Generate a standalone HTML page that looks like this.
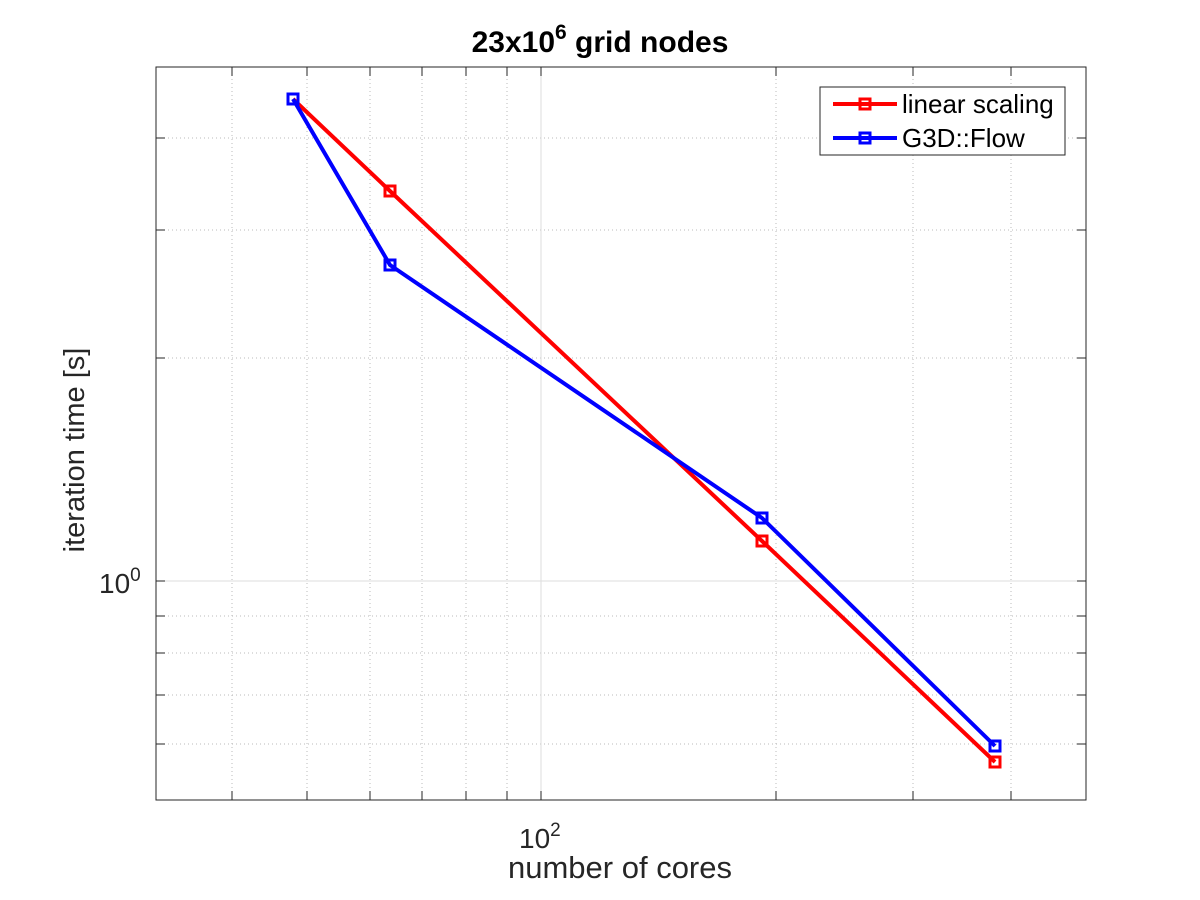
<!DOCTYPE html>
<html><head><meta charset="utf-8"><style>body{margin:0;background:#fff}svg{display:block}text{font-family:"Liberation Sans",sans-serif}</style></head><body>
<svg width="1200" height="900" xmlns="http://www.w3.org/2000/svg">
<rect width="1200" height="900" fill="#fff"/>
<g stroke="#bbb" stroke-width="1" stroke-dasharray="1,3">
<line x1="232" y1="67" x2="232" y2="800"/><line x1="307" y1="67" x2="307" y2="800"/><line x1="370" y1="67" x2="370" y2="800"/><line x1="422" y1="67" x2="422" y2="800"/><line x1="466" y1="67" x2="466" y2="800"/><line x1="507" y1="67" x2="507" y2="800"/><line x1="776" y1="67" x2="776" y2="800"/><line x1="913" y1="67" x2="913" y2="800"/><line x1="1011" y1="67" x2="1011" y2="800"/>
<line x1="156" y1="138" x2="1086" y2="138"/><line x1="156" y1="230" x2="1086" y2="230"/><line x1="156" y1="358" x2="1086" y2="358"/><line x1="156" y1="616" x2="1086" y2="616"/><line x1="156" y1="653" x2="1086" y2="653"/><line x1="156" y1="695" x2="1086" y2="695"/><line x1="156" y1="744" x2="1086" y2="744"/>
</g>
<line x1="541" y1="67" x2="541" y2="800" stroke="#ddd"/>
<line x1="156" y1="581" x2="1086" y2="581" stroke="#ddd"/>
<g stroke="#262626" stroke-width="1">
<rect x="156" y="67" width="930" height="733" fill="none"/>
<path d="M232 67v9M307 67v9M370 67v9M422 67v9M466 67v9M507 67v9M541 67v9M776 67v9M913 67v9M1011 67v9M232 800v-9M307 800v-9M370 800v-9M422 800v-9M466 800v-9M507 800v-9M541 800v-9M776 800v-9M913 800v-9M1011 800v-9"/>
<path d="M156 138h9M156 230h9M156 358h9M156 581h9M156 616h9M156 653h9M156 695h9M156 744h9M1086 138h-9M1086 230h-9M1086 358h-9M1086 581h-9M1086 616h-9M1086 653h-9M1086 695h-9M1086 744h-9"/>
</g>
<polyline points="293,99 390,191 762,541 995,762" fill="none" stroke="#f00" stroke-width="4"/>
<polyline points="293,99 390,265 762,518 995,746" fill="none" stroke="#00f" stroke-width="4"/>
<g fill="none" stroke-width="3">
<g stroke="#f00"><rect x="385" y="186" width="10" height="10"/><rect x="757" y="536" width="10" height="10"/><rect x="990" y="757" width="10" height="10"/></g>
<g stroke="#00f"><rect x="288" y="94" width="10" height="10"/><rect x="385" y="260" width="10" height="10"/><rect x="757" y="513" width="10" height="10"/><rect x="990" y="741" width="10" height="10"/></g>
</g>
<rect x="820" y="87" width="245" height="68" fill="#fff" stroke="#262626"/>
<line x1="833" y1="104" x2="897" y2="104" stroke="#f00" stroke-width="4"/><rect x="860" y="99" width="10" height="10" fill="none" stroke="#f00" stroke-width="3"/>
<line x1="833" y1="138" x2="897" y2="138" stroke="#00f" stroke-width="4"/><rect x="860" y="133" width="10" height="10" fill="none" stroke="#00f" stroke-width="3"/>
<text x="902" y="113" font-size="26" fill="#000">linear scaling</text>
<text x="902" y="147" font-size="26" fill="#000">G3D::Flow</text>
<text x="600" y="52" font-size="30" font-weight="bold" text-anchor="middle" fill="#000">23x10<tspan font-size="21" dy="-13">6</tspan><tspan dy="13"> grid nodes</tspan></text>
<text x="519" y="848" font-size="28" fill="#262626">10<tspan font-size="19" dy="-12">2</tspan></text>
<text x="99" y="593" font-size="28" fill="#262626">10<tspan font-size="19" dy="-12">0</tspan></text>
<text x="620" y="878" font-size="31" text-anchor="middle" fill="#262626">number of cores</text>
<text transform="translate(84,450) rotate(-90)" font-size="29" text-anchor="middle" fill="#262626">iteration time [s]</text>
</svg>
</body></html>
